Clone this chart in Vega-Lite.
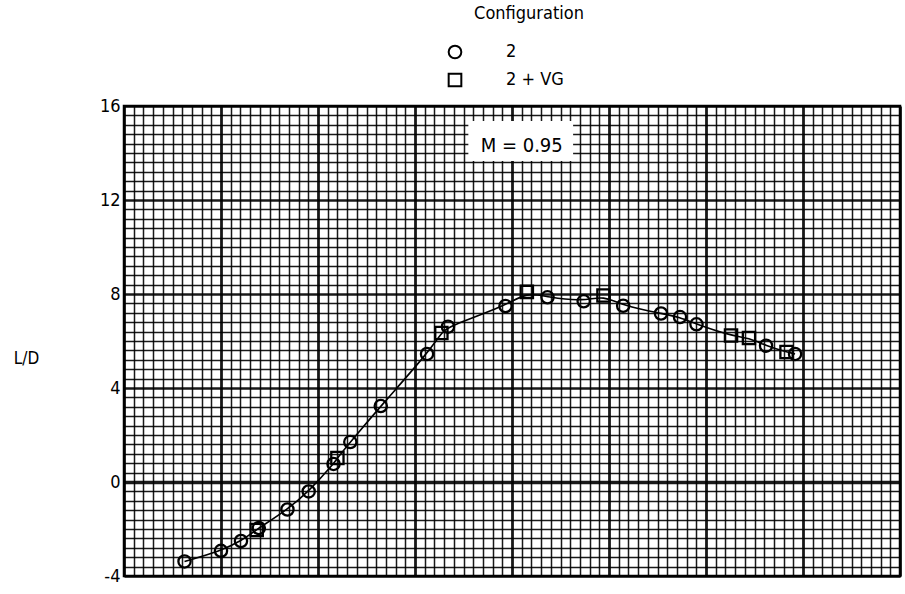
{
  "$schema": "https://vega.github.io/schema/vega-lite/v6.json",
  "width": 776,
  "height": 470,
  "autosize": {"type": "none"},
  "padding": {"left": 124, "top": 106, "right": 5, "bottom": 18},
  "background": "white",
  "config": {
    "view": {"stroke": "black", "strokeWidth": 2.5},
    "font": "DejaVu Sans Condensed, Roboto, sans-serif"
  },
  "title": {
    "text": "Configuration",
    "frame": "group",
    "anchor": "middle",
    "dx": 17,
    "offset": 20,
    "fontSize": 18,
    "fontWeight": "normal",
    "color": "black",
    "font": "DejaVu Sans Condensed, Roboto, sans-serif"
  },
  "datasets": {
    "points": [
      {"x": 6.24, "ld": -3.38, "config": "2"},
      {"x": 10.0, "ld": -2.93, "config": "2"},
      {"x": 12.06, "ld": -2.51, "config": "2"},
      {"x": 13.68, "ld": -2.04, "config": "2 + VG"},
      {"x": 13.9, "ld": -1.96, "config": "2"},
      {"x": 16.85, "ld": -1.17, "config": "2"},
      {"x": 19.04, "ld": -0.4, "config": "2"},
      {"x": 21.6, "ld": 0.77, "config": "2"},
      {"x": 22.0, "ld": 1.02, "config": "2 + VG"},
      {"x": 23.33, "ld": 1.7, "config": "2"},
      {"x": 26.47, "ld": 3.23, "config": "2"},
      {"x": 31.24, "ld": 5.45, "config": "2"},
      {"x": 32.72, "ld": 6.34, "config": "2 + VG"},
      {"x": 33.4, "ld": 6.61, "config": "2"},
      {"x": 39.33, "ld": 7.49, "config": "2"},
      {"x": 41.53, "ld": 8.09, "config": "2 + VG"},
      {"x": 43.66, "ld": 7.86, "config": "2"},
      {"x": 47.39, "ld": 7.69, "config": "2"},
      {"x": 49.43, "ld": 7.94, "config": "2 + VG"},
      {"x": 51.46, "ld": 7.5, "config": "2"},
      {"x": 55.36, "ld": 7.17, "config": "2"},
      {"x": 57.32, "ld": 7.02, "config": "2"},
      {"x": 59.02, "ld": 6.71, "config": "2"},
      {"x": 62.58, "ld": 6.23, "config": "2 + VG"},
      {"x": 64.43, "ld": 6.13, "config": "2 + VG"},
      {"x": 66.19, "ld": 5.8, "config": "2"},
      {"x": 68.3, "ld": 5.53, "config": "2 + VG"},
      {"x": 69.18, "ld": 5.45, "config": "2"}
    ],
    "note": [
      {"x": 35.5, "x2": 46.3, "y": 15.36, "y2": 13.66, "tx": 41.0, "ty": 14.3, "label": "M = 0.95"}
    ]
  },
  "layer": [
    {
      "data": {"name": "points"},
      "mark": {"type": "line", "interpolate": "basis", "color": "black", "strokeWidth": 1.6},
      "encoding": {
        "x": {
          "field": "x", "type": "quantitative",
          "scale": {"domain": [0, 80], "nice": false, "zero": false},
          "axis": {
            "title": null,
            "values": [0,1,2,3,4,5,6,7,8,9,10,11,12,13,14,15,16,17,18,19,20,21,22,23,24,25,26,27,28,29,30,31,32,33,34,35,36,37,38,39,40,41,42,43,44,45,46,47,48,49,50,51,52,53,54,55,56,57,58,59,60,61,62,63,64,65,66,67,68,69,70,71,72,73,74,75,76,77,78,79,80],
            "tickCount": 500,
            "labels": false,
            "ticks": false,
            "domain": false,
            "grid": true,
            "gridColor": "black",
            "gridOpacity": 0.9,
            "gridWidth": {"condition": {"test": "datum.value % 10 === 0", "value": 2.8}, "value": 1.5}
          }
        },
        "y": {
          "field": "ld", "type": "quantitative",
          "scale": {"domain": [-4, 16], "nice": false, "zero": false},
          "axis": {
            "title": "L/D",
            "titleAngle": 0,
            "titleAlign": "center",
            "titleBaseline": "middle",
            "titleX": -98,
            "titleY": 252,
            "titleFontSize": 17,
            "titleFontWeight": "normal",
            "titleColor": "black",
            "values": [-4,-3.6,-3.2,-2.8,-2.4,-2,-1.6,-1.2,-0.8,-0.4,0,0.4,0.8,1.2,1.6,2,2.4,2.8,3.2,3.6,4,4.4,4.8,5.2,5.6,6,6.4,6.8,7.2,7.6,8,8.4,8.8,9.2,9.6,10,10.4,10.8,11.2,11.6,12,12.4,12.8,13.2,13.6,14,14.4,14.8,15.2,15.6,16],
            "tickCount": 500,
            "labelExpr": "datum.value % 4 === 0 ? (datum.value < 0 ? '-' + abs(datum.value) : '' + datum.value) : ''",
            "labelFontSize": 18,
            "labelColor": "black",
            "labelPadding": 4,
            "labelOverlap": false,
            "labelFlush": false,
            "ticks": false,
            "domain": false,
            "grid": true,
            "gridColor": "black",
            "gridOpacity": 0.9,
            "gridWidth": {"condition": [{"test": "datum.value === 0", "value": 3.4}, {"test": "datum.value % 4 === 0", "value": 2.4}], "value": 1.5}
          }
        }
      }
    },
    {
      "data": {"name": "points"},
      "mark": {"type": "point", "filled": false, "color": "black", "strokeWidth": 2.3, "size": 150, "opacity": 1},
      "encoding": {
        "x": {"field": "x", "type": "quantitative"},
        "y": {"field": "ld", "type": "quantitative"},
        "shape": {
          "field": "config", "type": "nominal",
          "scale": {"domain": ["2", "2 + VG"], "range": ["circle", "square"]},
          "legend": {
            "orient": "none",
            "legendX": 322,
            "legendY": -63,
            "title": null,
            "padding": 0,
            "labelFontSize": 18,
            "labelColor": "black",
            "labelOffset": 42,
            "rowPadding": 6,
            "symbolSize": 160,
            "symbolStrokeWidth": 2,
            "symbolStrokeColor": "black",
            "symbolOpacity": 1
          }
        }
      }
    },
    {
      "data": {"name": "note"},
      "mark": {"type": "rect", "fill": "white", "stroke": null},
      "encoding": {
        "x": {"field": "x", "type": "quantitative"},
        "x2": {"field": "x2"},
        "y": {"field": "y", "type": "quantitative"},
        "y2": {"field": "y2"}
      }
    },
    {
      "data": {"name": "note"},
      "mark": {"type": "text", "fontSize": 20, "color": "black", "align": "center", "baseline": "middle"},
      "encoding": {
        "x": {"field": "tx", "type": "quantitative"},
        "y": {"field": "ty", "type": "quantitative"},
        "text": {"field": "label"}
      }
    }
  ]
}
